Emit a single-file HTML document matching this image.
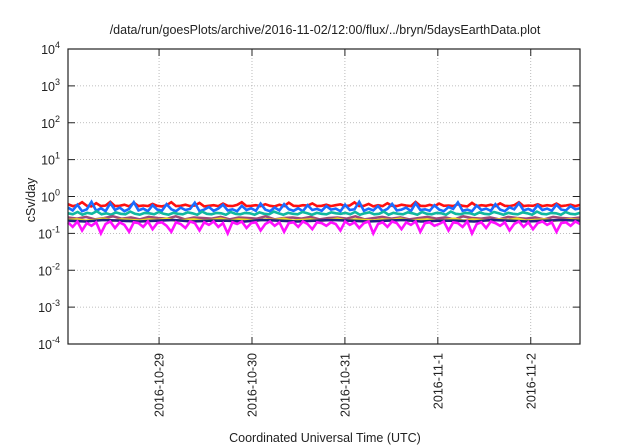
<!DOCTYPE html>
<html><head><meta charset="utf-8"><style>
body{margin:0;background:#fff}
svg{display:block;font-family:"Liberation Sans",sans-serif}
</style></head><body>
<svg id="chart" width="640" height="448" viewBox="0 0 640 448">
<rect width="640" height="448" fill="#fff"/>
<text x="325" y="34" font-size="12.5" text-anchor="middle" fill="#222">/data/run/goesPlots/archive/2016-11-02/12:00/flux/../bryn/5daysEarthData.plot</text>
<text transform="translate(35,200) rotate(-90)" font-size="12.5" text-anchor="middle" fill="#222">cSv/day</text>
<text x="325" y="442" font-size="12.5" text-anchor="middle" fill="#222">Coordinated Universal Time (UTC)</text>
<g id="grid"></g>
<g id="series"></g>
<g id="axes"></g>
</svg>
<script>
const yExponents=[-4,-3,-2,-1,0,1,2,3,4];
const xTickLabels=["2016-10-29","2016-10-30","2016-10-31","2016-11-1","2016-11-2"];
const xTickDays=[1,2,3,4,5];
const xStartDay=0.02, xEndDay=5.53;
const redVals=[0.62,0.55,0.58,0.7,0.56,0.54,0.66,0.55,0.57,0.72,0.55,0.56,0.6,0.54,0.68,0.55,0.57,0.55,0.63,0.56,0.54,0.58,0.7,0.55,0.56,0.6,0.55,0.57,0.67,0.54,0.56,0.58,0.55,0.64,0.56,0.55,0.59,0.7,0.55,0.56,0.58,0.55,0.62,0.56,0.54,0.6,0.55,0.68,0.56,0.55,0.58,0.57,0.65,0.55,0.56,0.6,0.55,0.58,0.61,0.55,0.57,0.69,0.55,0.56,0.63,0.54,0.58,0.55,0.66,0.56,0.55,0.6,0.57,0.55,0.71,0.56,0.55,0.59,0.55,0.64,0.56,0.57,0.55,0.62,0.56,0.54,0.67,0.55,0.58,0.56,0.6,0.55,0.65,0.56,0.55,0.58,0.7,0.55,0.57,0.56,0.62,0.55,0.58,0.56,0.64,0.55,0.57,0.6,0.55,0.59];
const blueVals=[0.5,0.42,0.6,0.4,0.45,0.72,0.41,0.48,0.4,0.66,0.43,0.5,0.4,0.46,0.7,0.42,0.47,0.4,0.58,0.44,0.41,0.62,0.45,0.4,0.5,0.43,0.46,0.68,0.4,0.44,0.52,0.41,0.47,0.6,0.42,0.45,0.4,0.56,0.43,0.48,0.41,0.64,0.44,0.4,0.5,0.42,0.62,0.45,0.41,0.48,0.4,0.58,0.43,0.46,0.41,0.55,0.44,0.47,0.4,0.6,0.43,0.45,0.72,0.41,0.47,0.42,0.55,0.4,0.46,0.63,0.42,0.44,0.5,0.4,0.66,0.43,0.45,0.41,0.58,0.44,0.4,0.52,0.46,0.69,0.41,0.44,0.4,0.57,0.43,0.47,0.41,0.62,0.44,0.4,0.51,0.45,0.66,0.42,0.46,0.4,0.58,0.43,0.47,0.41,0.6,0.44,0.42,0.55,0.45,0.48];
const tealVals=[0.35,0.33,0.38,0.32,0.36,0.34,0.4,0.33,0.35,0.32,0.37,0.34,0.33,0.39,0.34,0.32,0.36,0.35,0.33,0.38,0.34,0.32,0.36,0.34,0.33,0.37,0.35,0.32,0.39,0.34,0.33,0.36,0.35,0.32,0.38,0.34,0.33,0.36,0.35,0.32,0.37,0.34,0.33,0.39,0.35,0.32,0.36,0.34,0.33,0.38,0.35,0.32,0.36,0.34,0.33,0.37,0.35,0.34,0.36,0.33,0.38,0.32,0.35,0.37,0.33,0.34,0.39,0.32,0.36,0.34,0.33,0.37,0.35,0.32,0.38,0.34,0.33,0.36,0.35,0.32,0.39,0.34,0.33,0.36,0.35,0.32,0.37,0.34,0.33,0.38,0.35,0.32,0.36,0.34,0.33,0.37,0.35,0.32,0.39,0.34,0.33,0.36,0.35,0.32,0.38,0.34,0.33,0.36];
const purpleVals=[0.27,0.25,0.28,0.24,0.26,0.29,0.25,0.27,0.24,0.28,0.26,0.25,0.29,0.24,0.27,0.26,0.25,0.28,0.24,0.27,0.26,0.25,0.29,0.24,0.26,0.27,0.25,0.28,0.24,0.26,0.27,0.25,0.29,0.24,0.26,0.28,0.25,0.27,0.24,0.26,0.28,0.25,0.27,0.24,0.29,0.26,0.25,0.27,0.24,0.28,0.26,0.25,0.27,0.24,0.28,0.26,0.25,0.27];
const yellowVals=[0.23,0.24,0.22,0.23,0.25,0.22,0.24,0.23,0.22,0.24,0.23,0.25,0.22,0.23,0.24,0.22,0.23,0.25,0.22,0.24,0.23,0.22,0.24,0.23,0.25,0.22,0.23,0.24,0.22,0.23,0.25,0.22,0.24,0.23,0.22,0.24,0.23,0.25,0.22,0.23,0.24,0.22,0.23,0.25,0.22,0.24,0.23,0.22,0.24,0.23,0.25,0.22,0.23,0.24,0.22,0.23,0.24,0.23];
const navyVals=[0.22,0.21,0.23,0.22,0.21,0.22,0.23,0.21,0.22,0.22,0.21,0.23,0.22,0.21,0.22,0.23,0.22,0.21,0.22,0.23,0.21,0.22,0.22,0.21,0.23,0.22,0.21,0.22,0.23,0.22];
const magentaVals=[0.2,0.15,0.21,0.12,0.19,0.16,0.2,0.1,0.18,0.21,0.14,0.2,0.17,0.11,0.2,0.19,0.15,0.21,0.13,0.19,0.2,0.16,0.11,0.2,0.18,0.14,0.21,0.19,0.12,0.2,0.17,0.21,0.15,0.19,0.1,0.2,0.18,0.21,0.14,0.19,0.2,0.12,0.18,0.21,0.16,0.2,0.11,0.19,0.2,0.15,0.21,0.18,0.13,0.2,0.19,0.16,0.2,0.18,0.12,0.21,0.17,0.2,0.14,0.19,0.21,0.1,0.18,0.2,0.15,0.21,0.19,0.13,0.2,0.17,0.21,0.11,0.19,0.2,0.16,0.18,0.21,0.12,0.2,0.19,0.15,0.21,0.1,0.18,0.2,0.14,0.21,0.19,0.16,0.2,0.12,0.18,0.21,0.15,0.2,0.13,0.19,0.21,0.17,0.2,0.11,0.19,0.2,0.16,0.21,0.18];
const L=68,R=580,T=49,B=344;
const NS="http://www.w3.org/2000/svg";
function yScale(v){const e=Math.log10(v);return B-(e-(-4))/8*(B-T);}
function xScale(d){return L+(d-xStartDay)/(xEndDay-xStartDay)*(R-L);}
function mk(tag,attrs,parent){const el=document.createElementNS(NS,tag);for(const k in attrs)el.setAttribute(k,attrs[k]);parent.appendChild(el);return el;}
const grid=document.getElementById('grid'),axes=document.getElementById('axes'),series=document.getElementById('series');
yExponents.forEach(e=>{
  const y=yScale(Math.pow(10,e));
  if(e>-4&&e<4){const g=mk('line',{x1:L,x2:R,y1:y,y2:y,stroke:'#aaa','stroke-width':0.8,'stroke-dasharray':'1,2'},grid);
  
  }
  const t1=mk('line',{x1:L,x2:L+7,y1:y,y2:y,stroke:'#222','stroke-width':1},axes);
  
  
  const t2=mk('line',{x1:R-7,x2:R,y1:y,y2:y,stroke:'#222','stroke-width':1},axes);
  
  
  const tx=mk('text',{x:L-8,y:y+5,'font-size':12.5,'text-anchor':'end',fill:'#222'},axes);
  
  
  tx.appendChild(document.createTextNode('10'));
  const sup=mk('tspan',{dy:-6,'font-size':9},tx);sup.textContent=String(e);
});
xTickDays.forEach((d,i)=>{
  const x=xScale(d);
  const g=mk('line',{x1:x,x2:x,y1:T,y2:B,stroke:'#aaa','stroke-width':0.8,'stroke-dasharray':'1,2'},grid);
  
  
  const t=mk('line',{x1:x,x2:x,y1:B-7,y2:B,stroke:'#222','stroke-width':1},axes);
  
  
  const t2=mk('line',{x1:x,x2:x,y1:T,y2:T+7,stroke:'#222','stroke-width':1},axes);
  
  
  const tx=mk('text',{transform:`translate(${x+4.5},353) rotate(-90)`,'font-size':12.5,'text-anchor':'end',fill:'#222'},axes);
  
  
  tx.textContent=xTickLabels[i];
});
const frame=mk('rect',{x:L,y:T,width:R-L,height:B-T,fill:'none',stroke:'#222','stroke-width':1.2},axes);


const seriesList=[[redVals,'#ff1010','series-red'],[blueVals,'#1a6cff','series-blue'],[tealVals,'#10b8a0','series-teal'],[purpleVals,'#a04878','series-purple'],[yellowVals,'#e8d820','series-yellow'],[navyVals,'#202080','series-navy'],[magentaVals,'#ff10ff','series-magenta']];
seriesList.forEach(([vals,col,name])=>{
  const n=vals.length;
  const pts=vals.map((v,i)=>xScale(xStartDay+i/(n-1)*(xEndDay-xStartDay)).toFixed(1)+','+yScale(v).toFixed(1)).join(' ');
  const p=mk('polyline',{points:pts,fill:'none',stroke:col,'stroke-width':2.6,'stroke-linejoin':'miter'},series);
  
  
});
</script>
</body></html>
